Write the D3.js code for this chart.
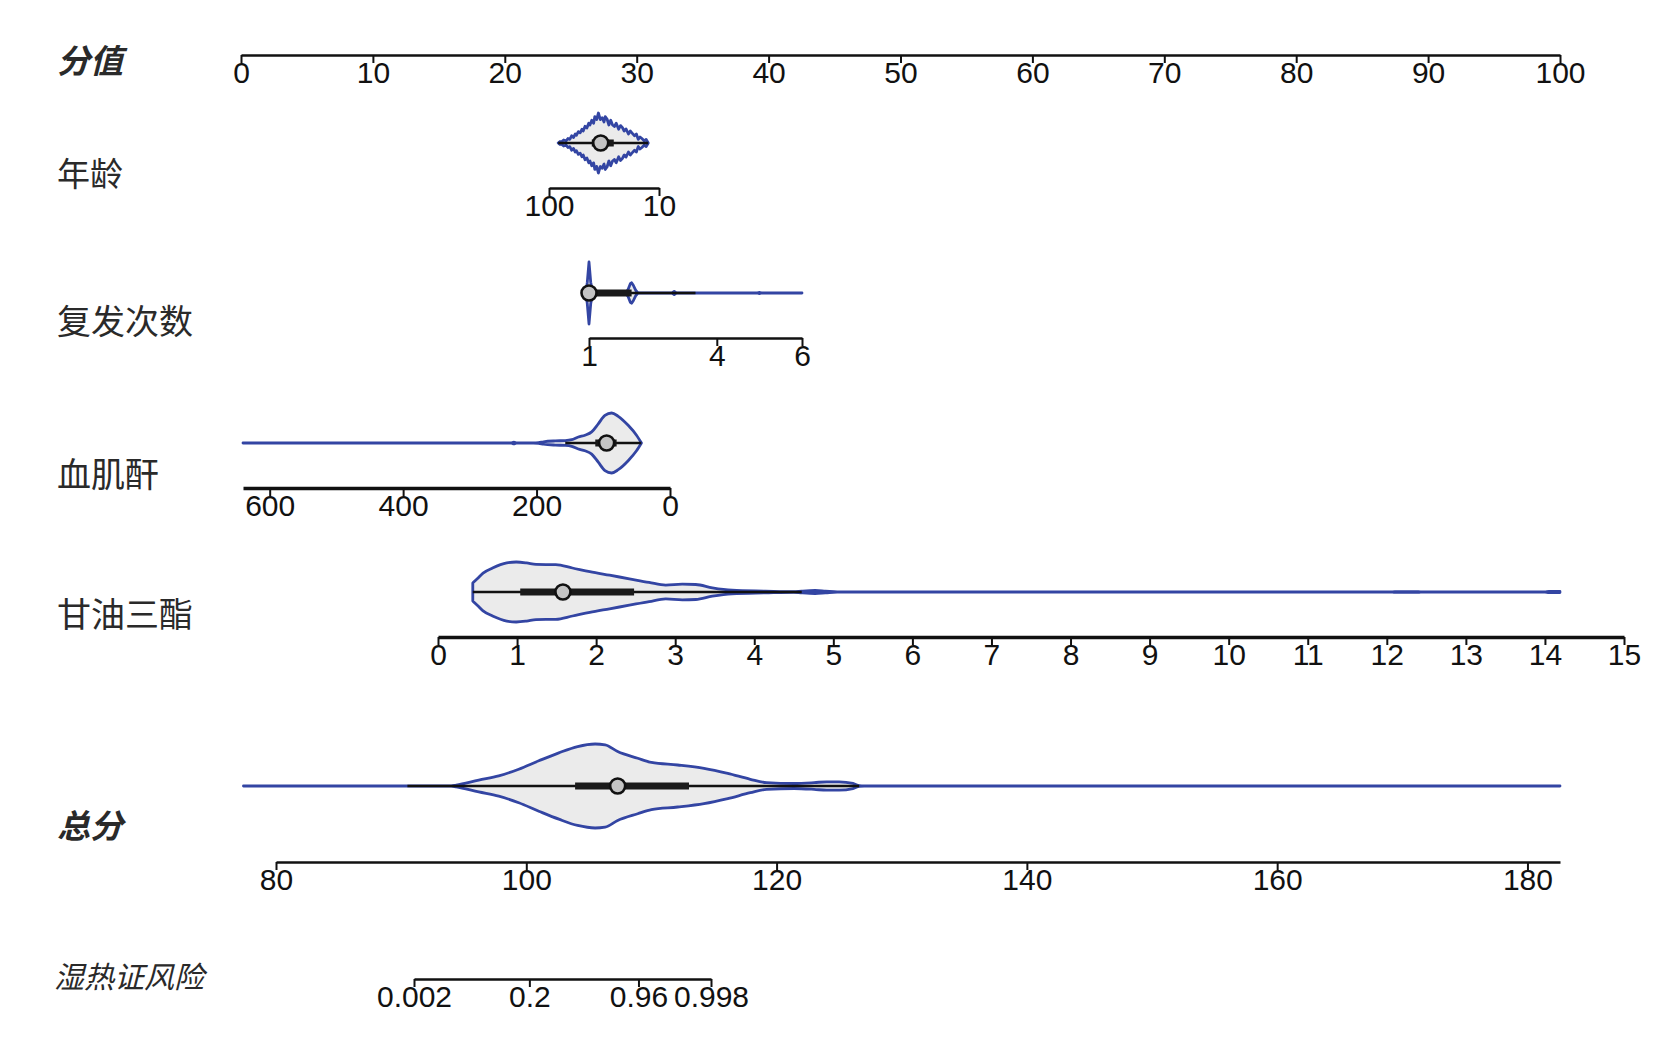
<!DOCTYPE html>
<html>
<head>
<meta charset="utf-8">
<script src="https://cdn.jsdelivr.net/npm/d3@7"></script>
<style>
  body { margin: 0; background: #fff; }
  .tick text { font-family: "Liberation Sans", Arial, sans-serif; font-size: 30px; fill: #111; }
  .lab { font-family: "Noto Sans CJK SC", "Noto Sans", sans-serif; fill: #2a2a2a; }
</style>
</head>
<body>
<svg id="chart" width="1675" height="1043"></svg>
<script>
// ---- data ----
const rowLabels = ["分值", "年龄", "复发次数", "血肌酐", "甘油三酯", "总分", "湿热证风险"];

const pointTicks = [0, 10, 20, 30, 40, 50, 60, 70, 80, 90, 100];
const ageTicks = [100, 10];
const relapseTicks = [1, 4, 6];
const scrTicks = [600, 400, 200, 0];
const tgTicks = [0, 1, 2, 3, 4, 5, 6, 7, 8, 9, 10, 11, 12, 13, 14, 15];
const totalTicks = [80, 100, 120, 140, 160, 180];
const riskTicks = [0.002, 0.2, 0.96, 0.998];
const riskTickLabels = ["0.002", "0.2", "0.96", "0.998"];

// [value, relative density]
const ageDensity = [
  [18.8, 0], [20.5, 0.12], [22, 0.07], [24, 0.15], [25.5, 0.2], [27, 0.12], [28.5, 0.3],
  [30, 0.24], [32, 0.33], [33.5, 0.4], [35, 0.3], [37, 0.47], [38.5, 0.4], [40, 0.52],
  [41.5, 0.58], [43, 0.46], [45, 0.66], [46.5, 0.55], [48, 0.6], [49.5, 0.76], [51, 0.6],
  [52.5, 0.8], [54, 0.88], [55, 0.7], [56.5, 0.84], [58, 0.78], [59.6, 1.0], [61, 0.78],
  [62.5, 0.88], [63.5, 0.66], [65, 0.76], [66.5, 0.6], [67.5, 0.66], [69, 0.5], [70.5, 0.56],
  [72, 0.4], [73, 0.46], [74.5, 0.34], [76, 0.38], [77.5, 0.26], [78.5, 0.3], [80, 0.18],
  [81.5, 0.24], [83, 0.12], [84.5, 0.15], [86, 0.07], [88, 0.1], [90, 0.03], [91, 0.05],
  [92.5, 0]
];
const relapseDensity = [
  [0.93, 0], [0.96, 0.35], [1.0, 1.0], [1.04, 0.35], [1.08, 0.05], [1.12, 0], [1.86, 0],
  [1.92, 0.12], [1.97, 0.3], [2.0, 0.33], [2.04, 0.25], [2.1, 0.08], [2.15, 0], [2.95, 0],
  [3.0, 0.05], [3.05, 0], [4.95, 0], [5.0, 0.02], [5.05, 0], [6, 0]
];
const scrDensity = [
  [42.8, 0], [50.2, 0.26], [62.7, 0.59], [77.6, 0.89], [87.5, 1.0], [97.5, 0.92], [107.5, 0.64],
  [117.4, 0.37], [127.4, 0.26], [137.3, 0.2], [147.3, 0.11], [157, 0.08], [172, 0.07],
  [189.5, 0.04], [197, 0.01], [205, 0], [230, 0], [234, 0.03], [238, 0], [640, 0]
];
const tgDensity = [
  [0.44, 0.3], [0.5, 0.45], [0.57, 0.63], [0.69, 0.8], [0.87, 0.97], [0.99, 1.0], [1.12, 0.97],
  [1.24, 0.92], [1.49, 0.91], [1.7, 0.8], [1.92, 0.68], [2.17, 0.56], [2.42, 0.44], [2.67, 0.32],
  [2.88, 0.23], [3.09, 0.26], [3.26, 0.25], [3.47, 0.14], [3.72, 0.06], [4.14, 0.03], [4.5, 0.01],
  [4.6, 0.03], [4.77, 0.05], [4.9, 0.03], [5.05, 0.005], [5.5, 0.005], [6, 0], [12.05, 0],
  [12.1, 0.015], [12.4, 0.015], [12.45, 0], [14.0, 0], [14.05, 0.02], [14.19, 0.02]
];
const totalDensity = [
  [77.4, 0], [94, 0], [94.4, 0.02], [96.2, 0.14], [97.8, 0.24], [99.4, 0.4], [101, 0.6],
  [102.6, 0.79], [104.1, 0.94], [105.5, 1.0], [106.3, 0.98], [107.3, 0.82], [108.9, 0.66],
  [110, 0.56], [112.1, 0.5], [114.2, 0.42], [116.1, 0.3], [117.9, 0.16], [119.2, 0.08],
  [121.4, 0.06], [123, 0.08], [124, 0.1], [125, 0.1], [126.1, 0.06], [126.6, 0.01], [127, 0],
  [182.6, 0]
];

// [whisker low, q1, median, q3, whisker high]
const ageBox = [18.8, 47, 57.7, 65, 92.5];
const relapseBox = [1, 1, 1, 2, 3.5];
const scrBox = [43, 80, 95, 112, 157];
const tgBox = [0.44, 1.04, 1.58, 2.48, 4.6];
const totalBox = [90.5, 103.9, 107.3, 113.0, 126.6];

// ---- drawing ----
const svg = d3.select("#chart");
const logit = p => Math.log(p / (1 - p));

const xPoints = d3.scaleLinear().domain([0, 100]).range([241, 1560]);
const xAge = d3.scaleLinear().domain([100, 10]).range([549, 659]);
const xRelapse = d3.scaleLinear().domain([1, 6]).range([589, 802]);
const xScr = d3.scaleLinear().domain([640, 0]).range([243, 670]);
const xTg = d3.scaleLinear().domain([0, 15]).range([438, 1624]);
const xTotal = d3.scaleLinear().domain([80, 182.6]).range([276, 1560]);
const xRisk = d3.scaleLinear().domain([logit(0.002), logit(0.998)]).range([414, 711]);

function drawAxis(scale, y, ticks, fmt, width) {
  const axis = d3.axisBottom(scale)
    .tickValues(ticks)
    .tickSizeInner(8)
    .tickSizeOuter(0)
    .tickPadding(-1)
    .tickFormat(fmt || (d => d));
  const g = svg.append("g")
    .attr("transform", `translate(0,${y})`)
    .call(axis);
  g.select(".domain").attr("stroke", "#111").attr("stroke-width", width || 2.6);
  g.selectAll(".tick line").attr("stroke", "#111").attr("stroke-width", 2);
  g.selectAll(".tick text").attr("font-size", null).attr("font-family", null).attr("fill", null);
  return g;
}

drawAxis(xPoints, 55, pointTicks);
drawAxis(xAge, 188, ageTicks);
drawAxis(xRelapse, 338, relapseTicks);
drawAxis(xScr, 488, scrTicks, null, 3.4);
drawAxis(xTg, 637, tgTicks, null, 3.4);
drawAxis(xTotal, 862, totalTicks);
drawAxis(xRisk, 979, riskTicks.map(logit), (d, i) => riskTickLabels[i]);

function drawViolin(scale, cy, density, box, maxHalf, curve) {
  const w = d3.scaleLinear().domain([0, 1]).range([0, maxHalf]);
  const area = d3.area()
    .x(d => scale(d[0]))
    .y0(d => cy - w(d[1]))
    .y1(d => cy + w(d[1]))
    .curve(curve);
  svg.append("path")
    .datum(density)
    .attr("d", area)
    .attr("fill", "#ebebeb")
    .attr("stroke", "#3345a3")
    .attr("stroke-width", 2.8)
    .attr("stroke-linejoin", "round");

  const g = svg.append("g");
  g.append("line")
    .attr("x1", scale(box[0])).attr("x2", scale(box[4]))
    .attr("y1", cy).attr("y2", cy)
    .attr("stroke", "#111").attr("stroke-width", 2.4);
  const xa = scale(box[1]), xb = scale(box[3]);
  g.append("rect")
    .attr("x", Math.min(xa, xb)).attr("width", Math.abs(xb - xa))
    .attr("y", cy - 3.5).attr("height", 7)
    .attr("fill", "#1a1a1a");
  g.append("circle")
    .attr("cx", scale(box[2])).attr("cy", cy).attr("r", 7.5)
    .attr("fill", "#c4c4c4").attr("stroke", "#111").attr("stroke-width", 2.6);
}

drawViolin(xAge, 143, ageDensity, ageBox, 30, d3.curveLinear);
drawViolin(xRelapse, 293, relapseDensity, relapseBox, 31, d3.curveLinear);
drawViolin(xScr, 443, scrDensity, scrBox, 30, d3.curveMonotoneX);
drawViolin(xTg, 592, tgDensity, tgBox, 30, d3.curveMonotoneX);
drawViolin(xTotal, 786, totalDensity, totalBox, 42, d3.curveMonotoneX);

// row labels
const labelY = [59, 172, 319, 472, 612, 824, 975];
const labelSize = [33, 33, 34, 34, 34, 33, 30];
svg.append("g").selectAll("text")
  .data(rowLabels)
  .join("text")
  .attr("class", "lab")
  .attr("x", (d, i) => i === 6 ? 54 : 57)
  .attr("y", (d, i) => labelY[i])
  .attr("dominant-baseline", "central")
  .attr("font-weight", (d, i) => (i === 0 || i === 5) ? "bold" : "normal")
  .attr("font-style", (d, i) => (i === 0 || i === 5 || i === 6) ? "italic" : "normal")
  .attr("font-size", (d, i) => labelSize[i])
  .attr("fill", (d, i) => i === 6 ? "#6a6a6a" : (i === 0 || i === 5) ? "#111" : "#2a2a2a")
  .text(d => d);
</script>
</body>
</html>
